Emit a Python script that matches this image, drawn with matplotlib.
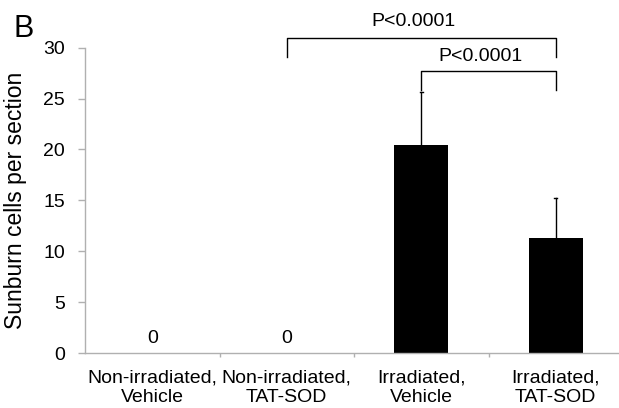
import matplotlib
matplotlib.use("Agg")
import matplotlib.pyplot as plt

plt.rcParams['font.family'] = ['Liberation Sans', 'DejaVu Sans']

categories = ["Non-irradiated,\nVehicle", "Non-irradiated,\nTAT-SOD",
              "Irradiated,\nVehicle", "Irradiated,\nTAT-SOD"]
values = [0, 0, 20.4, 11.3]
errors = [0, 0, 5.2, 3.9]
zero_labels = ["0", "0", "", ""]
yticks = [0, 5, 10, 15, 20, 25, 30]

fig = plt.figure(figsize=(6.19, 4.08), dpi=100)
ax = fig.add_axes([85/619, 55/408, 538/619, 305.3/408])

x = list(range(len(categories)))
ax.bar(x, values, width=0.40, color='black', zorder=2)
for xi, v, e in zip(x, values, errors):
    if e > 0:
        ax.plot([xi, xi], [v, v + e], color='black', lw=1, zorder=1)
        ax.plot([xi - 0.01, xi + 0.01], [v + e, v + e], color='black', lw=1)
for xi, lab in zip(x, zero_labels):
    if lab:
        ax.text(xi, 1.47, lab, ha='center', va='center', fontsize=14)

ax.set_xlim(-0.5, 3.5)
ax.set_ylim(0, 30)
ax.set_yticks(yticks)
ax.tick_params(axis='y', labelsize=14, color='#b0b0b0', length=5, width=1, direction='out', pad=9.5)
ax.set_xticks([0.5, 1.5, 2.5])
ax.set_xticklabels([])
ax.tick_params(axis='x', color='#b0b0b0', length=3, width=1, direction='out')
for i, c in enumerate(categories):
    l1, l2 = c.split("\n")
    ax.text(i, -2.46, l1, ha='center', va='center', fontsize=14, clip_on=False)
    ax.text(i, -4.42, l2, ha='center', va='center', fontsize=14, clip_on=False)

for s in ['top', 'right']:
    ax.spines[s].set_visible(False)
for s in ['left', 'bottom']:
    ax.spines[s].set_color('#b0b0b0')
    ax.spines[s].set_linewidth(1)

ax.set_ylabel("Sunburn cells per section", fontsize=16.5)
ax.yaxis.set_label_coords(-(85 - 27) / 538, 0.5)

# significance brackets
def bracket(x1, x2, y, yl, yr, ylab, label):
    ax.plot([x1, x1, x2, x2], [yl, y, y, yr], color='black', lw=1, clip_on=False)
    ax.text((x1 + x2) / 2 - 0.06, ylab, label, ha='center', va='center', fontsize=14, clip_on=False)

bracket(1, 3, 30.97, 29.1, 29.1, 32.6, "P<0.0001")
bracket(2, 3, 27.7, 25.8, 25.8, 29.1, "P<0.0001")

fig.text(13/619, 1 - 37/408, "B", fontsize=22, ha='left', va='baseline')

fig.savefig("out.png", dpi=100)
